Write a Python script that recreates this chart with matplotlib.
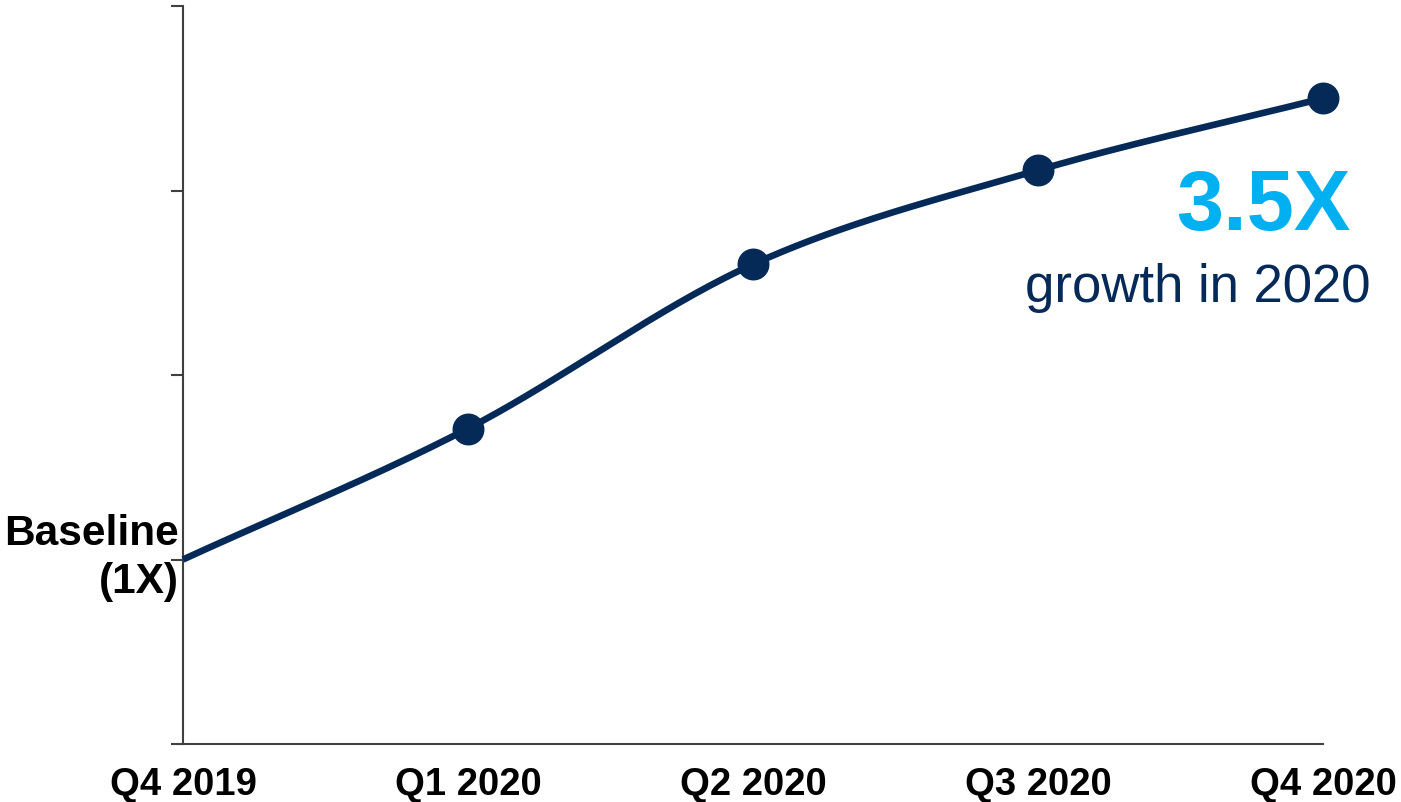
import numpy as np
import matplotlib
matplotlib.use("Agg")
import matplotlib.pyplot as plt

# data (growth multiple vs. baseline)
quarters = ["Q4 2019", "Q1 2020", "Q2 2020", "Q3 2020", "Q4 2020"]
growth = [1.0, 1.71, 2.60, 3.11, 3.50]
y_ticks = [0, 1, 2, 3, 4]

NAVY = "#062a58"
CYAN = "#00b0f0"
AXIS = "#404040"

plt.rcParams['font.family'] = ['Liberation Sans', 'DejaVu Sans']


def catmull_rom(xs, ys, n=60):
    # smooth curve through the points (style only, data points are kept)
    p = np.column_stack([xs, ys]).astype(float)
    p = np.vstack([2 * p[0] - p[1], p, 2 * p[-1] - p[-2]])
    out = []
    t = np.linspace(0, 1, n)[:, None]
    for i in range(1, len(p) - 2):
        p0, p1, p2, p3 = p[i - 1], p[i], p[i + 1], p[i + 2]
        seg = 0.5 * ((2 * p1) + (-p0 + p2) * t + (2 * p0 - 5 * p1 + 4 * p2 - p3) * t ** 2
                     + (-p0 + 3 * p1 - 3 * p2 + p3) * t ** 3)
        out.append(seg if i == 1 else seg[1:])
    out = np.vstack(out)
    return out[:, 0], out[:, 1]


fig = plt.figure(figsize=(14.01, 8.03), dpi=100)
ax = fig.add_axes([183 / 1401, 1 - 745 / 803, (1323 - 183) / 1401, (745 - 7) / 803])

x = np.arange(len(quarters))
sx, sy = catmull_rom(x, growth)
ax.plot(sx, sy, color=NAVY, lw=4.8, solid_capstyle="butt", clip_on=False, zorder=3)
ax.plot(x[1:], growth[1:], "o", ms=22, color=NAVY, clip_on=False, zorder=4)

ax.set_xlim(0, len(quarters) - 1)
ax.set_ylim(0, 4)
ax.set_yticks(y_ticks)
ax.set_yticklabels([])
ax.set_xticks(x)
ax.set_xticklabels(quarters, fontsize=27.5, fontweight="bold")
ax.tick_params(axis="x", length=0, pad=16)
ax.tick_params(axis="y", direction="out", length=8.5, width=1.5, color=AXIS)

for s in ["top", "right"]:
    ax.spines[s].set_visible(False)
for s in ["left", "bottom"]:
    ax.spines[s].set_color(AXIS)
    ax.spines[s].set_linewidth(1.5)

# baseline label on the left
ax.text(-0.016, 1.084, "Baseline", ha="right", va="baseline", fontsize=30.5,
        fontweight="bold", color="black", clip_on=False)
ax.text(-0.016, 0.824, "(1X)", ha="right", va="baseline", fontsize=30.5,
        fontweight="bold", color="black", clip_on=False)

# callout
ax.text(4.095, 2.79, "3.5X", ha="right", va="baseline", fontsize=61,
        fontweight="bold", color=CYAN, clip_on=False)
ax.text(4.165, 2.40, "growth in 2020", ha="right", va="baseline", fontsize=38,
        color=NAVY, clip_on=False)

fig.savefig("out.png", dpi=100)
